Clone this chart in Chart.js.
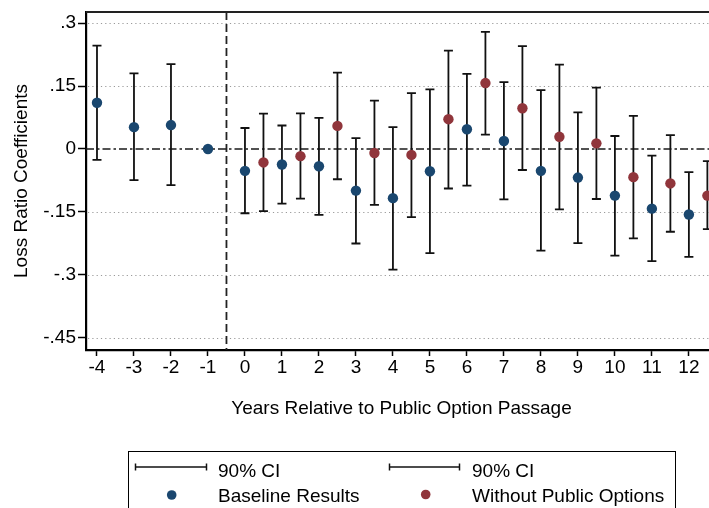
<!DOCTYPE html>
<html>
<head>
<meta charset="utf-8">
<script src="https://cdn.jsdelivr.net/npm/chart.js@4/dist/chart.umd.min.js"></script>
<style>
  html, body { margin: 0; padding: 0; background: #fff; }
  body { width: 709px; height: 508px; overflow: hidden; position: relative; font-family: "Liberation Sans", Arial, sans-serif; }
  #c { position: absolute; left: 0; top: 0; }
  .lg-box { position: absolute; left: 128px; top: 451px; width: 548px; height: 80px; border: 1px solid #000; box-sizing: border-box; }
  .lg-text { position: absolute; font-size: 19px; line-height: 22px; color: #000; white-space: nowrap; }
  #lgsvg { position: absolute; left: 0; top: 0; }
</style>
</head>
<body>
<canvas id="c" width="730" height="420"></canvas>
<div class="lg-box"></div>
<svg id="lgsvg" width="709" height="508"></svg>
<span class="lg-text" style="left:218px; top:460px;">90% CI</span>
<span class="lg-text" style="left:472px; top:460px;">90% CI</span>
<span class="lg-text" style="left:218px; top:485px;">Baseline Results</span>
<span class="lg-text" style="left:472px; top:485px;">Without Public Options</span>
<script>
// ---- data ----
const baselineYears = [-4, -3, -2, -1, 0, 1, 2, 3, 4, 5, 6, 7, 8, 9, 10, 11, 12];
const baselineCoef  = [0.110, 0.052, 0.057, 0.000, -0.052, -0.037, -0.041, -0.099, -0.117, -0.053, 0.047, 0.019, -0.052, -0.068, -0.111, -0.142, -0.156];
const baselineLo    = [-0.026, -0.074, -0.086, null, -0.153, -0.130, -0.157, -0.225, -0.287, -0.248, -0.087, -0.120, -0.242, -0.224, -0.254, -0.267, -0.257];
const baselineHi    = [0.246, 0.180, 0.202, null, 0.050, 0.056, 0.074, 0.026, 0.052, 0.142, 0.179, 0.159, 0.140, 0.087, 0.031, -0.016, -0.055];

const noPOYears = [0.5, 1.5, 2.5, 3.5, 4.5, 5.5, 6.5, 7.5, 8.5, 9.5, 10.5, 11.5, 12.5];
const noPOCoef  = [-0.032, -0.017, 0.055, -0.0095, -0.014, 0.071, 0.157, 0.097, 0.029, 0.0135, -0.067, -0.082, -0.111];
const noPOLo    = [-0.148, -0.118, -0.072, -0.133, -0.162, -0.094, 0.034, -0.050, -0.144, -0.119, -0.213, -0.197, -0.191];
const noPOHi    = [0.084, 0.085, 0.182, 0.115, 0.133, 0.234, 0.279, 0.245, 0.201, 0.146, 0.079, 0.033, -0.029];

const xTicks = [-4, -3, -2, -1, 0, 1, 2, 3, 4, 5, 6, 7, 8, 9, 10, 11, 12];
const yTicks = [0.3, 0.15, 0, -0.15, -0.3, -0.45];
const yTickLabels = ['.3', '.15', '0', '-.15', '-.3', '-.45'];
const treatmentLine = -0.5;

const seriesNames = ['Baseline Results', 'Without Public Options'];
const ciLabel = '90% CI';
const xTitle = 'Years Relative to Public Option Passage';
const yTitle = 'Loss Ratio Coefficients';

const BLUE = '#1a476f';
const RED = '#90353b';
const FONT = '"Liberation Sans", Arial, sans-serif';

const series = [
  { xs: baselineYears, ys: baselineCoef, lo: baselineLo, hi: baselineHi },
  { xs: noPOYears, ys: noPOCoef, lo: noPOLo, hi: noPOHi }
];

const overlay = {
  id: 'overlay',
  beforeDatasetsDraw(chart) {
    const { ctx, chartArea: a, scales: { x, y } } = chart;
    ctx.save();
    // dotted grid
    ctx.lineWidth = 1.2;
    ctx.strokeStyle = '#9a9a9a';
    ctx.setLineDash([1.2, 3.1]);
    yTicks.forEach(v => {
      if (v === 0) return;
      const py = Math.round(y.getPixelForValue(v)) + 0.5;
      ctx.beginPath(); ctx.moveTo(a.left + 2, py); ctx.lineTo(a.right, py); ctx.stroke();
    });
    // zero reference line (dash-dot)
    ctx.lineWidth = 1.6;
    ctx.strokeStyle = '#1a1a1a';
    ctx.setLineDash([8, 3, 2.5, 3]);
    const pz = y.getPixelForValue(0);
    ctx.beginPath(); ctx.moveTo(a.left, pz); ctx.lineTo(a.right, pz); ctx.stroke();
    // vertical dashed line
    ctx.setLineDash([8, 4]);
    ctx.lineWidth = 1.8;
    ctx.strokeStyle = '#222';
    const pv = x.getPixelForValue(treatmentLine);
    ctx.beginPath(); ctx.moveTo(pv, a.top); ctx.lineTo(pv, a.bottom); ctx.stroke();
    // error bars
    ctx.setLineDash([]);
    ctx.lineWidth = 1.8;
    ctx.strokeStyle = '#111';
    const cap = 4.5;
    series.forEach(s => {
      s.xs.forEach((xv, i) => {
        if (s.lo[i] == null || s.hi[i] == null) return;
        const px = x.getPixelForValue(xv);
        const pl = y.getPixelForValue(s.lo[i]);
        const ph = y.getPixelForValue(s.hi[i]);
        ctx.beginPath();
        ctx.moveTo(px, pl); ctx.lineTo(px, ph);
        ctx.moveTo(px - cap, pl); ctx.lineTo(px + cap, pl);
        ctx.moveTo(px - cap, ph); ctx.lineTo(px + cap, ph);
        ctx.stroke();
      });
    });
    ctx.restore();
  },
  afterDraw(chart) {
    const { ctx, chartArea: a } = chart;
    ctx.save();
    ctx.lineWidth = 2;
    ctx.strokeStyle = '#222';
    ctx.beginPath(); ctx.moveTo(a.left, a.top); ctx.lineTo(a.right, a.top); ctx.stroke();
    ctx.restore();
  }
};

new Chart(document.getElementById('c'), {
  type: 'scatter',
  data: {
    datasets: [
      {
        label: seriesNames[0],
        data: baselineYears.map((v, i) => ({ x: v, y: baselineCoef[i] })),
        backgroundColor: BLUE, borderColor: BLUE, pointRadius: 5.2, pointBorderWidth: 0
      },
      {
        label: seriesNames[1],
        data: noPOYears.map((v, i) => ({ x: v, y: noPOCoef[i] })),
        backgroundColor: RED, borderColor: RED, pointRadius: 5.2, pointBorderWidth: 0
      }
    ]
  },
  options: {
    responsive: false,
    animation: false,
    layout: { padding: { left: 0, top: 12, right: 13, bottom: 0 } },
    plugins: { legend: { display: false }, tooltip: { enabled: false } },
    scales: {
      x: {
        type: 'linear',
        min: -4.297,
        max: 12.76,
        afterBuildTicks: s => { s.ticks = xTicks.map(v => ({ value: v })); },
        afterFit: s => { s.height = 70; },
        ticks: {
          autoSkip: false, maxRotation: 0, padding: 0, color: '#000',
          font: { family: FONT, size: 19 },
          callback: v => String(v)
        },
        grid: { display: true, drawOnChartArea: false, drawTicks: true, tickLength: 6, tickWidth: 1.5, tickColor: '#000' },
        border: { display: true, color: '#000', width: 2.2 },
        title: { display: true, text: xTitle, color: '#000', font: { family: FONT, size: 19 }, padding: { top: 0, bottom: 0 } }
      },
      y: {
        type: 'linear',
        min: -0.4786,
        max: 0.3262,
        afterBuildTicks: s => { s.ticks = yTicks.map(v => ({ value: v })); },
        afterFit: s => { s.width = 86; },
        ticks: {
          autoSkip: false, padding: 2, color: '#000',
          font: { family: FONT, size: 19, lineHeight: 1 },
          callback: v => { const k = yTicks.indexOf(v); return k >= 0 ? yTickLabels[k] : ''; }
        },
        grid: { display: true, drawOnChartArea: false, drawTicks: true, tickLength: 8, tickWidth: 1.5, tickColor: '#000' },
        border: { display: true, color: '#000', width: 2.2 },
        title: { display: true, text: yTitle, color: '#000', font: { family: FONT, size: 19 }, padding: { top: 10, bottom: 0 } }
      }
    }
  },
  plugins: [overlay]
});

// legend symbols (drawn from series colours)
(function () {
  const svg = document.getElementById('lgsvg');
  const ns = 'http://www.w3.org/2000/svg';
  function el(name, attrs) { const e = document.createElementNS(ns, name); for (const k in attrs) e.setAttribute(k, attrs[k]); svg.appendChild(e); }
  [[135, 207], [389, 460]].forEach(([x1, x2]) => {
    el('line', { x1, y1: 467, x2, y2: 467, stroke: '#111', 'stroke-width': 1.5 });
    el('line', { x1: x1 + 0.5, y1: 463.5, x2: x1 + 0.5, y2: 470.5, stroke: '#111', 'stroke-width': 1.5 });
    el('line', { x1: x2 - 0.5, y1: 463.5, x2: x2 - 0.5, y2: 470.5, stroke: '#111', 'stroke-width': 1.5 });
  });
  el('circle', { cx: 171.7, cy: 495, r: 4.8, fill: BLUE });
  el('circle', { cx: 425.7, cy: 494.5, r: 4.8, fill: RED });
})();
</script>
</body>
</html>
